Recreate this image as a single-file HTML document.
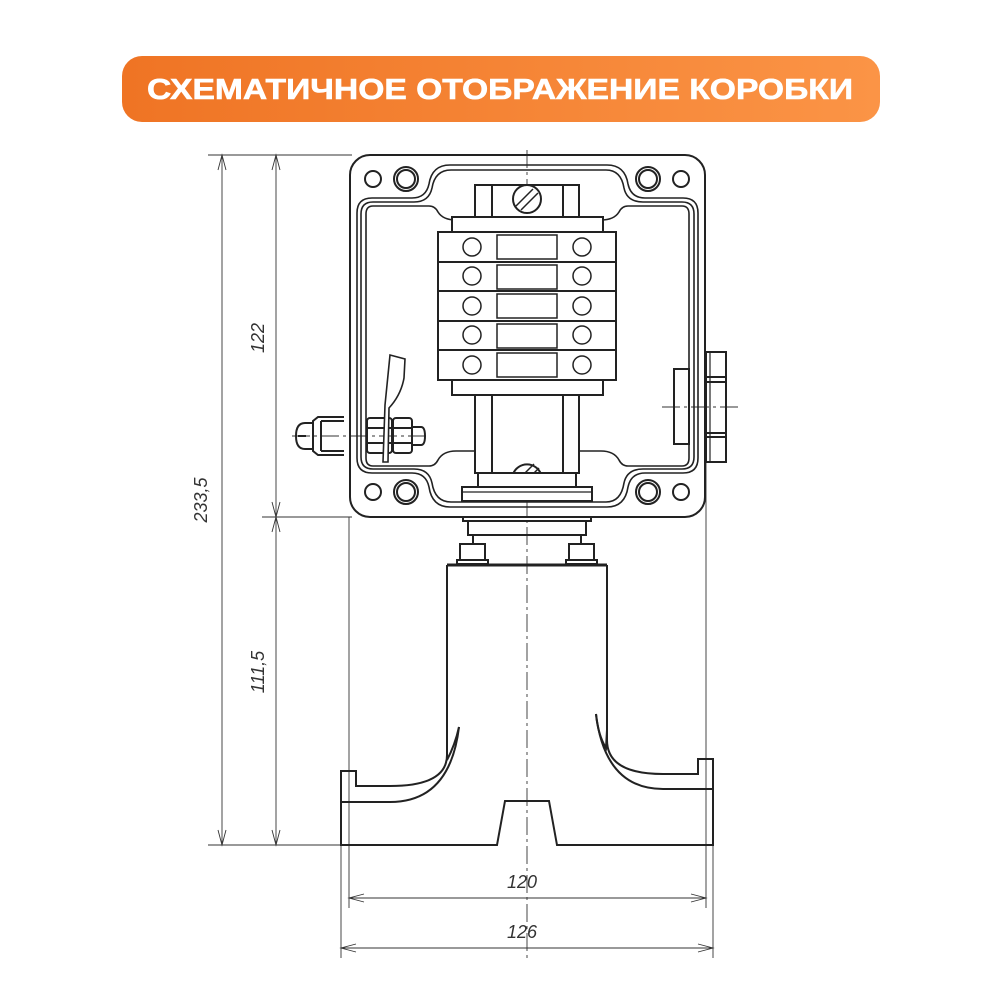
<!DOCTYPE html>
<html><head><meta charset="utf-8"><style>
html,body{margin:0;padding:0;background:#fff;width:1000px;height:1000px;overflow:hidden}
svg{display:block}
</style></head><body>
<svg width="1000" height="1000" viewBox="0 0 1000 1000" xmlns="http://www.w3.org/2000/svg">
<defs>
<linearGradient id="g" x1="0" y1="0" x2="1" y2="0">
<stop offset="0" stop-color="#ef7424"/><stop offset="1" stop-color="#fb9446"/>
</linearGradient>
</defs>
<rect x="122" y="56" width="758" height="66" rx="20" fill="url(#g)"/>
<text x="500" y="99" text-anchor="middle" font-family="Liberation Sans, sans-serif" font-weight="bold" font-size="29" fill="#fff" stroke="#fff" stroke-width="0.6" textLength="706" lengthAdjust="spacingAndGlyphs">СХЕМАТИЧНОЕ ОТОБРАЖЕНИЕ КОРОБКИ</text>

<g fill="none" stroke="#333" stroke-width="0.9">
<line x1="222" y1="155" x2="222" y2="845"/>
<line x1="276" y1="155" x2="276" y2="845"/>
<line x1="208" y1="155" x2="352" y2="155"/>
<line x1="262" y1="517" x2="352" y2="517"/>
<line x1="208" y1="845" x2="343" y2="845"/>
<line x1="349" y1="517" x2="349" y2="908"/>
<line x1="706" y1="380" x2="706" y2="908"/>
<line x1="341" y1="845" x2="341" y2="958"/>
<line x1="713" y1="790" x2="713" y2="958"/>
<line x1="349" y1="898" x2="706" y2="898"/>
<line x1="341" y1="948" x2="713" y2="948"/>
<path d="M218,170 L222,155 L226,170 M218,830 L222,845 L226,830 M272,170 L276,155 L280,170 M272,502 L276,517 L280,502 M272,532 L276,517 L280,532 M272,830 L276,845 L280,830 M364,894 L349,898 L364,902 M691,894 L706,898 L691,902 M356,944 L341,948 L356,952 M698,944 L713,948 L698,952"/>
<line x1="527" y1="150" x2="527" y2="960" stroke-dasharray="18,4,3,4"/>
<line x1="662" y1="407" x2="738" y2="407" stroke-dasharray="18,4,3,4"/>
<line x1="292" y1="436" x2="430" y2="436" stroke-dasharray="18,4,3,4"/>
</g>
<g font-family="Liberation Sans, sans-serif" font-style="italic" font-size="18" fill="#333" text-anchor="middle">
<text transform="translate(264,338) rotate(-90)">122</text>
<text transform="translate(207,500) rotate(-90)">233,5</text>
<text transform="translate(264,672) rotate(-90)">111,5</text>
<text x="522" y="888">120</text>
<text x="522" y="938">126</text>
</g>

<g fill="none" stroke="#222" stroke-width="2">
<rect x="350" y="155" width="355" height="362" rx="20"/>
<path d="M357,213 Q357,198 372,198 L412,198 Q426,198 429,184 Q432,165 450,165 L607,165 Q625,165 628,184 Q631,198 645,198 L683,198 Q698,198 698,213 L698,458 Q698,473 683,473 L645,473 Q631,473 628,487 Q625,507 607,507 L450,507 Q432,507 429,487 Q426,473 412,473 L372,473 Q357,473 357,458 Z" stroke-width="1.6"/>
<path d="M361,214 Q361,202 373,202 L414,202 Q429,202 432,188 Q435,170 451,170 L606,170 Q621,170 624,188 Q627,202 643,202 L682,202 Q694,202 694,214 L694,457 Q694,469 682,469 L643,469 Q627,469 624,483 Q621,502 606,502 L451,502 Q435,502 432,483 Q429,469 414,469 L373,469 Q361,469 361,457 Z" stroke-width="1.6"/>
<path d="M366,214 Q366,206 373,206 L429,206 Q435,206 438,212 Q443,220 456,220 L601,220 Q614,220 619,212 Q622,206 628,206 L682,206 Q689,206 689,214 L689,458 Q689,466 682,466 L628,466 Q622,466 619,460 Q614,451 601,451 L456,451 Q443,451 438,460 Q435,466 429,466 L373,466 Q366,466 366,458 Z" stroke-width="1.6"/>
<circle cx="373" cy="179" r="8"/><circle cx="406" cy="179" r="12"/><circle cx="406" cy="179" r="9"/>
<circle cx="648" cy="179" r="12"/><circle cx="648" cy="179" r="9"/><circle cx="681" cy="179" r="8"/>
<circle cx="373" cy="492" r="8"/><circle cx="406" cy="492" r="12"/><circle cx="406" cy="492" r="9"/>
<circle cx="648" cy="492" r="12"/><circle cx="648" cy="492" r="9"/><circle cx="681" cy="492" r="8"/>
<rect x="475" y="185" width="104" height="32" fill="#fff"/>
<line x1="492" y1="185" x2="492" y2="217"/><line x1="563" y1="185" x2="563" y2="217"/>
<circle cx="527" cy="199" r="14" fill="#fff"/>
<path d="M516,206 L533,189 M521,210 L538,193" stroke-width="1.5"/>
<rect x="452" y="217" width="151" height="15" fill="#fff"/>
<rect x="438" y="232" width="178" height="148" fill="#fff"/>
<line x1="438" y1="262" x2="616" y2="262"/><line x1="438" y1="291" x2="616" y2="291"/>
<line x1="438" y1="321" x2="616" y2="321"/><line x1="438" y1="350" x2="616" y2="350"/>
<g stroke-width="1.5">
<circle cx="472" cy="247" r="9"/><circle cx="582" cy="247" r="9"/><rect x="497" y="235" width="60" height="24"/>
<circle cx="472" cy="276" r="9"/><circle cx="582" cy="276" r="9"/><rect x="497" y="265" width="60" height="24"/>
<circle cx="472" cy="306" r="9"/><circle cx="582" cy="306" r="9"/><rect x="497" y="294" width="60" height="24"/>
<circle cx="472" cy="335" r="9"/><circle cx="582" cy="335" r="9"/><rect x="497" y="324" width="60" height="24"/>
<circle cx="472" cy="365" r="9"/><circle cx="582" cy="365" r="9"/><rect x="497" y="353" width="60" height="24"/>
</g>
<rect x="452" y="380" width="151" height="15" fill="#fff"/>
<rect x="475" y="395" width="104" height="78" fill="#fff"/>
<line x1="492" y1="395" x2="492" y2="473"/><line x1="563" y1="395" x2="563" y2="473"/>
<path d="M513,474 A15,15 0 0 1 541,474"/>
<path d="M518,480 L534,464 M523,484 L539,468" stroke-width="1.5"/>
<rect x="478" y="473" width="98" height="14" fill="#fff"/>
<rect x="462" y="487" width="130" height="14" fill="#fff"/>
<line x1="462" y1="492" x2="592" y2="492" stroke-width="1.2"/>
<rect x="463" y="517" width="128" height="4"/>
<rect x="468" y="521" width="118" height="14"/>
<line x1="473" y1="535" x2="473" y2="544"/><line x1="581" y1="535" x2="581" y2="544"/>
<rect x="460" y="544" width="25" height="16"/><rect x="569" y="544" width="25" height="16"/>
<rect x="457" y="560" width="31" height="4"/><rect x="566" y="560" width="31" height="4"/>
<rect x="674" y="369" width="15" height="75"/>
<rect x="706" y="352" width="20" height="110"/>
<line x1="706" y1="377" x2="726" y2="377"/><line x1="706" y1="382" x2="726" y2="382"/>
<line x1="706" y1="433" x2="726" y2="433"/><line x1="706" y1="437" x2="726" y2="437"/>
<line x1="710" y1="352" x2="710" y2="462" stroke-width="1.2"/>
<path d="M313,423 L305,423 Q296,423 296,436 Q296,449 305,449 L313,449"/>
<line x1="298" y1="436" x2="306" y2="436"/>
<path d="M344,417 L318,417 L313,421 L313,451 L318,455 L344,455"/>
<line x1="321" y1="421" x2="344" y2="421"/><line x1="321" y1="451" x2="344" y2="451"/>
<line x1="321" y1="421" x2="321" y2="451"/>
<rect x="367" y="418" width="25" height="35" rx="3"/><rect x="393" y="418" width="19" height="35" rx="3"/>
<line x1="367" y1="428" x2="392" y2="428"/><line x1="367" y1="443" x2="392" y2="443"/>
<line x1="393" y1="428" x2="412" y2="428"/><line x1="393" y1="443" x2="412" y2="443"/>
<path d="M412,427 L421,427 Q425,427 425,436 Q425,445 421,445 L412,445"/>
<path d="M390,355 L405,359 L404,378 Q401,395 389,408 L388,462 L383,462 L385,405 L388,375 Z" stroke-width="1.6" fill="#fff"/>
<line x1="447" y1="565" x2="607" y2="565" stroke-width="3"/>
<path d="M447,565 L447,755 Q447,786 390,786 L356,786 L356,771 L341,771 L341,845 L497,845 L505,801 L549,801 L557,845 L713,845 L713,759 L698,759 L698,774 L663,774 Q607,774 607,740 L607,565"/>
<path d="M459,727 Q450,802 390,802 L341,802"/>
<path d="M596,714 Q605,789 663,789 L713,789"/>
<path d="M447,735 L447,760 Q455,745 459,727"/>
<path d="M607,730 L606,748 Q598,735 596,714"/>
</g>
</svg>
</body></html>
